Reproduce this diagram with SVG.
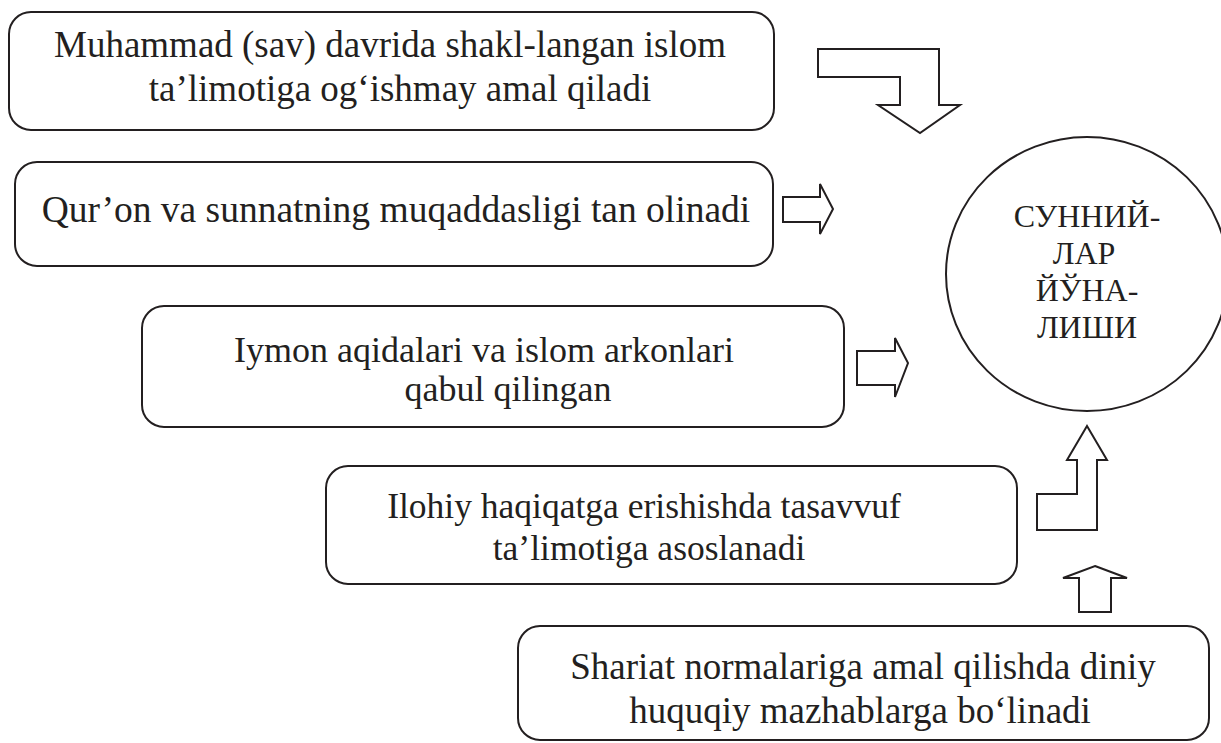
<svg xmlns="http://www.w3.org/2000/svg" width="1221" height="743" viewBox="0 0 1221 743">
<style>
.box{fill:#fff;stroke:#231f20;stroke-width:2}
.arr{fill:#fff;stroke:#231f20;stroke-width:2;stroke-linejoin:miter}
text{fill:#231f20;text-anchor:middle}
</style>
<rect width="1221" height="743" fill="#fff"/>
<g font-family="Liberation Serif, Times New Roman, serif" font-size="37">
<g id="n1">
<rect class="box" x="9" y="12" width="765" height="118" rx="22"/>
<text x="390" y="57">Muhammad (sav) davrida shakl-langan islom</text>
<text x="400" y="101">ta’limotiga og‘ishmay amal qiladi</text>
</g>
<g id="n2">
<rect class="box" x="15" y="162" width="758" height="104" rx="22"/>
<text x="396" y="222" font-size="37.5">Qur’on va sunnatning muqaddasligi tan olinadi</text>
</g>
<g id="n3" font-size="36">
<rect class="box" x="142" y="306" width="702" height="121" rx="22"/>
<text x="484" y="362">Iymon aqidalari va islom arkonlari</text>
<text x="508" y="401">qabul qilingan</text>
</g>
<g id="n4" font-size="35.5">
<rect class="box" x="326" y="466" width="691" height="118" rx="22"/>
<text x="644" y="518">Ilohiy haqiqatga erishishda tasavvuf</text>
<text x="649" y="560">ta’limotiga asoslanadi</text>
</g>
<g id="n5">
<rect class="box" x="518" y="626" width="691" height="114" rx="22"/>
<text x="863" y="679">Shariat normalariga amal qilishda diniy</text>
<text x="860" y="723">huquqiy mazhablarga bo‘linadi</text>
</g>
<g id="center" font-size="32">
<ellipse class="box" cx="1087" cy="274" rx="141" ry="137"/>
<text x="1087" y="227">СУННИЙ-</text>
<text x="1084" y="264">ЛАР</text>
<text x="1087" y="301">ЙЎНА-</text>
<text x="1087" y="338">ЛИШИ</text>
</g>
</g>
<g id="connectors">
<polygon class="arr" points="818,49 939,49 939,105 960,105 920,133 878,105 900,105 900,77 818,77"/>
<polygon class="arr" points="783,197 820,197 820,184 833,209 820,234 820,222 783,222"/>
<polygon class="arr" points="857,351 895,351 895,338 908,363 895,397 895,385 857,385"/>
<polygon class="arr" points="1087,426 1107,460 1097,460 1097,530 1037,530 1037,494 1077,494 1077,460 1067,460"/>
<polygon class="arr" points="1095,566 1127,578 1111,578 1111,612 1079,612 1079,578 1063,578"/>
</g>
</svg>
